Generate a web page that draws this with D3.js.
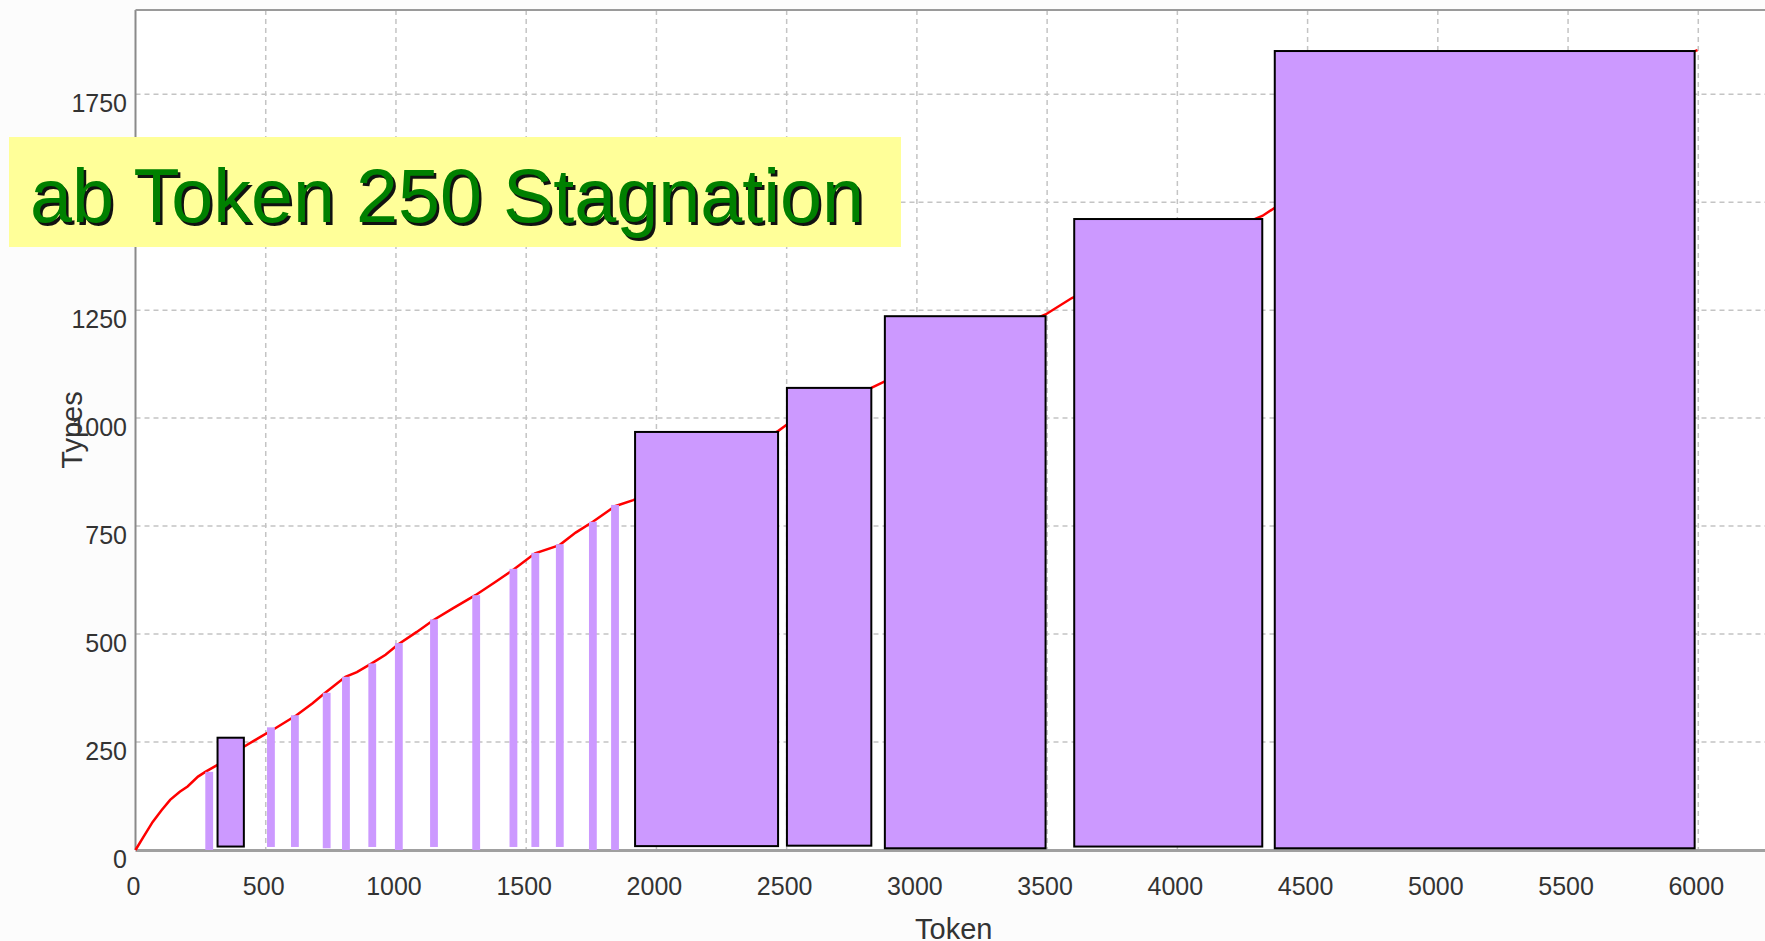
<!DOCTYPE html>
<html>
<head>
<meta charset="utf-8">
<script src="https://cdn.jsdelivr.net/npm/d3@7"></script>
<style>
  body { margin: 0; background: #fcfcfc; }
  svg { display: block; font-family: "Liberation Sans", Arial, sans-serif; }
</style>
</head>
<body>
<script>
// type/token curve (tokens on x, types on y)
const curveTokens = [0, 30, 66, 100, 133, 170, 200, 240, 268, 315, 370, 416, 480, 537, 618, 680, 726, 806, 850, 907, 960, 1008, 1080, 1143, 1220, 1305, 1380, 1453, 1534, 1628, 1690, 1756, 1841, 1911, 1918, 2200, 2467, 2501, 2825, 2877, 3200, 3494, 3595, 3900, 4326, 4374, 5200, 5997];
const curveTypes  = [0, 30, 65, 92, 116, 135, 147, 170, 181, 197, 220, 239, 262, 282, 312, 340, 363, 401, 412, 432, 452, 476, 505, 532, 560, 590, 620, 650, 687, 706, 735, 760, 796, 810, 812, 890, 970, 985, 1070, 1085, 1165, 1240, 1278, 1360, 1468, 1487, 1680, 1852];

// thin marker bars
const stripTokens = [283, 520, 612, 734, 808, 909, 1011, 1146, 1308, 1451, 1535, 1629, 1756, 1841];
const stripTypes  = [181, 284, 312, 364, 401, 432, 479, 534, 590, 651, 688, 708, 760, 799];
const stripBase   = [0, 7, 7, 4, 0, 7, 0, 7, 0, 7, 7, 7, 0, 0];
const stripSpan = 30;

// outlined stagnation boxes
const boxStart = [315, 1918, 2501, 2877, 3604, 4374];
const boxEnd   = [416, 2467, 2825, 3494, 4326, 5986];
const boxTop   = [260, 968, 1070, 1236, 1461, 1850];
const boxBase  = [8, 9, 10, 4, 8, 4];

const xTicks = [0, 500, 1000, 1500, 2000, 2500, 3000, 3500, 4000, 4500, 5000, 5500, 6000];
const yTicks = [0, 250, 500, 750, 1000, 1250, 1500, 1750];

const W = 1765, H = 941;
const plot = {left: 135.5, top: 10, right: 1772, bottom: 850};

const svg = d3.select("body").append("svg")
  .attr("width", W).attr("height", H);

svg.append("rect").attr("width", W).attr("height", H).attr("fill", "#fcfcfc");

const x = d3.scaleLinear().domain([0, 6283]).range([plot.left, plot.right]);
const y = d3.scaleLinear().domain([0, 1945]).range([plot.bottom, plot.top]);

// plot background
svg.append("rect")
  .attr("x", plot.left).attr("y", plot.top)
  .attr("width", plot.right - plot.left).attr("height", plot.bottom - plot.top)
  .attr("fill", "#ffffff");

// grid
const grid = svg.append("g").attr("stroke", "#c4c4c4").attr("stroke-width", 1.5).attr("stroke-dasharray", "5,4");
grid.selectAll("line.v").data(xTicks.filter(d => d > 0)).enter().append("line")
  .attr("x1", d => x(d)).attr("x2", d => x(d))
  .attr("y1", plot.top).attr("y2", plot.bottom);
grid.selectAll("line.h").data(yTicks.filter(d => d > 0)).enter().append("line")
  .attr("x1", plot.left).attr("x2", plot.right)
  .attr("y1", d => y(d)).attr("y2", d => y(d));

// frame: left and top border, bottom axis line
svg.append("line").attr("x1", plot.left).attr("x2", plot.left)
  .attr("y1", plot.top).attr("y2", plot.bottom).attr("stroke", "#8a8a8a").attr("stroke-width", 2);
svg.append("line").attr("x1", plot.left).attr("x2", W)
  .attr("y1", plot.top).attr("y2", plot.top).attr("stroke", "#9a9a9a").attr("stroke-width", 2);
svg.append("line").attr("x1", plot.left).attr("x2", W)
  .attr("y1", plot.bottom + 0.5).attr("y2", plot.bottom + 0.5).attr("stroke", "#a0a0a0").attr("stroke-width", 3);

// red curve
const curve = curveTokens.map((t, i) => [t, curveTypes[i]]);
svg.append("path")
  .datum(curve)
  .attr("fill", "none")
  .attr("stroke", "#ff0000")
  .attr("stroke-width", 2.5)
  .attr("d", d3.line().x(d => x(d[0])).y(d => y(d[1])));

// thin bars
svg.append("g").selectAll("rect").data(stripTokens).enter().append("rect")
  .attr("x", d => x(d - stripSpan / 2))
  .attr("width", x(stripSpan) - x(0))
  .attr("y", (d, i) => y(stripTypes[i]))
  .attr("height", (d, i) => y(stripBase[i]) - y(stripTypes[i]))
  .attr("fill", "#cc99ff");

// outlined boxes
svg.append("g").selectAll("rect").data(boxStart).enter().append("rect")
  .attr("x", d => x(d))
  .attr("width", (d, i) => x(boxEnd[i]) - x(d))
  .attr("y", (d, i) => y(boxTop[i]))
  .attr("height", (d, i) => y(boxBase[i]) - y(boxTop[i]))
  .attr("fill", "#cc99ff")
  .attr("stroke", "#000")
  .attr("stroke-width", 2);

// tick labels
svg.append("g").selectAll("text").data(xTicks).enter().append("text")
  .attr("x", d => x(d) - 2).attr("y", 895)
  .attr("text-anchor", "middle")
  .attr("font-size", 25).attr("fill", "#333")
  .text(d => d);

svg.append("g").selectAll("text").data(yTicks).enter().append("text")
  .attr("x", 127).attr("y", d => y(d) + 18)
  .attr("text-anchor", "end")
  .attr("font-size", 25).attr("fill", "#333")
  .text(d => d);

// axis titles
svg.append("text")
  .attr("x", (plot.left + plot.right) / 2).attr("y", 939)
  .attr("text-anchor", "middle").attr("font-size", 29).attr("fill", "#333")
  .text("Token");

svg.append("text")
  .attr("transform", "translate(82," + ((plot.top + plot.bottom) / 2) + ") rotate(-90)")
  .attr("text-anchor", "middle").attr("font-size", 29).attr("fill", "#333")
  .text("Types");

// title banner
svg.append("rect")
  .attr("x", 9).attr("y", 137).attr("width", 892).attr("height", 110)
  .attr("fill", "#ffff99");
const title = "ab Token 250 Stagnation";
svg.append("text")
  .attr("x", 32.5).attr("y", 224.5)
  .attr("font-size", 76).attr("fill", "#111")
  .attr("textLength", 834).attr("lengthAdjust", "spacingAndGlyphs")
  .text(title);
svg.append("text")
  .attr("x", 30).attr("y", 222)
  .attr("font-size", 76).attr("fill", "#008000")
  .attr("textLength", 834).attr("lengthAdjust", "spacingAndGlyphs")
  .text(title);
</script>
</body>
</html>
